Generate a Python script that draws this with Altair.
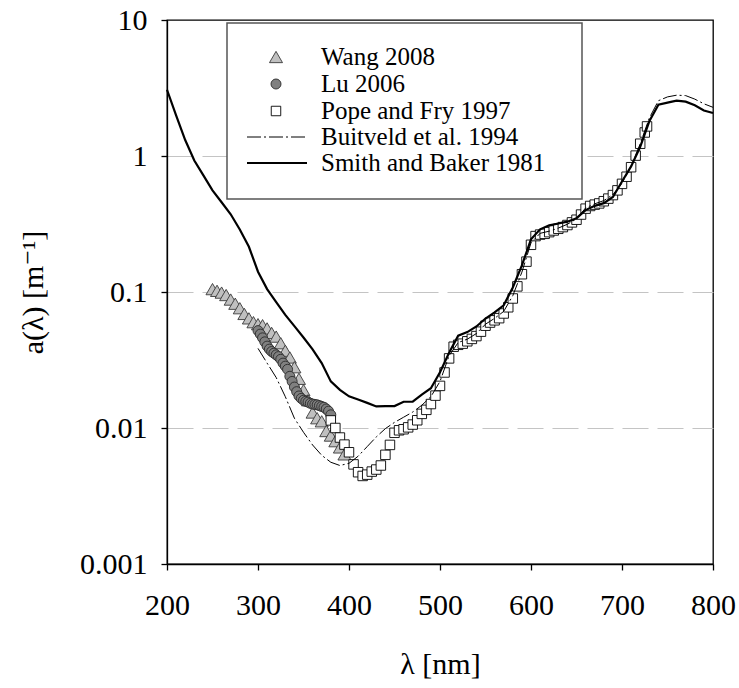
import altair as alt
import pandas as pd

# ---------------- data ----------------
smith_wl = list(range(200, 801, 10))
smith_a = [3.07, 1.99, 1.31, 0.927, 0.72, 0.559, 0.457, 0.373, 0.288, 0.215,
           0.141, 0.105, 0.0844, 0.0678, 0.0561, 0.0463, 0.0379, 0.030, 0.022, 0.0191,
           0.0171, 0.0162, 0.0153, 0.0144, 0.0145, 0.0145, 0.0156, 0.0156, 0.0176, 0.0196,
           0.0257, 0.0357, 0.0477, 0.0507, 0.0558, 0.0638, 0.0708, 0.0799, 0.108, 0.157,
           0.244, 0.289, 0.309, 0.319, 0.329, 0.349, 0.40, 0.43, 0.45, 0.50,
           0.65, 0.839, 1.169, 1.799, 2.38, 2.47, 2.55, 2.51, 2.36, 2.16, 2.07]

buit_wl = list(range(300, 801, 10))
buit_a = [0.0385, 0.030, 0.0235, 0.017, 0.0118, 0.0093, 0.0075, 0.0063, 0.0056, 0.0053,
          0.0055, 0.0062, 0.0073, 0.0086, 0.0099, 0.0110, 0.0120, 0.0131, 0.0147, 0.0170,
          0.0220, 0.0340, 0.0425, 0.0450, 0.0495, 0.0580, 0.0640, 0.0720, 0.0940, 0.1400,
          0.2300, 0.2700, 0.2800, 0.2950, 0.3150, 0.3450, 0.4150, 0.4450, 0.4700, 0.5200,
          0.6300, 0.8400, 1.2300, 1.9000, 2.5500, 2.7200, 2.8000, 2.7800, 2.6200, 2.4200, 2.2800]

pope_wl = list(range(380, 726, 5)) + [727.5]
pope_a = [0.01137, 0.01000, 0.00851, 0.00755, 0.00663, 0.00540, 0.00473, 0.00444, 0.00454, 0.00478,
          0.00495, 0.00530, 0.00635, 0.00751, 0.00922, 0.00962, 0.00979, 0.01011, 0.01060, 0.01140,
          0.01270, 0.01360, 0.01500, 0.01730, 0.02040, 0.02560, 0.03250, 0.03960, 0.04090, 0.04170,
          0.04340, 0.04520, 0.04740, 0.05110, 0.05650, 0.05960, 0.06190, 0.06420, 0.06950, 0.07720,
          0.08960, 0.11000, 0.13510, 0.16720, 0.22240, 0.25770, 0.26440, 0.26780, 0.27550, 0.28340,
          0.29160, 0.30010, 0.31080, 0.32500, 0.34000, 0.37100, 0.41000, 0.42900, 0.43900, 0.44800,
          0.46500, 0.48600, 0.51600, 0.55900, 0.62400, 0.70400, 0.82700, 1.00700, 1.23100, 1.48900,
          1.65]

lu_wl = [300, 302.5, 305, 307.5, 310, 312.5, 315, 317.5, 320, 322.5, 325, 327.5, 330, 332.5,
         335, 337.5, 340, 342.5, 345, 347.5, 350, 352.5, 355, 357.5, 360, 362.5, 365, 367.5,
         370, 372.5, 375, 377.5, 380]
lu_a = [0.052, 0.049, 0.046, 0.043, 0.040, 0.038, 0.0365, 0.0355, 0.0345, 0.0335, 0.032, 0.030,
        0.0285, 0.027, 0.024, 0.022, 0.020, 0.0185, 0.0172, 0.0165, 0.0160, 0.0157, 0.0155,
        0.0152, 0.0150, 0.0149, 0.0148, 0.0146, 0.0144, 0.0142, 0.0138, 0.0133, 0.0125]

wang_wl = list(range(250, 396, 5))
wang_a = [0.105, 0.102, 0.099, 0.095, 0.088, 0.082, 0.076, 0.069, 0.064, 0.060,
          0.058, 0.057, 0.054, 0.050, 0.047, 0.042, 0.037, 0.033, 0.028, 0.023,
          0.019, 0.016, 0.0130, 0.0118, 0.0112, 0.0095, 0.0088, 0.0080, 0.0072, 0.0064]

legend_labels = ["Wang 2008", "Lu 2006", "Pope and Fry 1997",
                 "Buitveld et al. 1994", "Smith and Baker 1981"]

x_ticks = [200, 300, 400, 500, 600, 700, 800]
y_ticks = [0.001, 0.01, 0.1, 1, 10]

FONT = "Times New Roman, Liberation Serif, DejaVu Serif, serif"
W, H = 546, 544

xs = alt.Scale(domain=[200, 800], nice=False, zero=False)
ys = alt.Scale(type="log", domain=[0.001, 10], nice=False)

xax = alt.Axis(values=x_ticks, title="λ [nm]", grid=False, tickSize=6,
               labelPadding=20, labelFlush=False, labelOverlap=False,
               titleX=W / 2, titleY=100, titleBaseline="middle")
yax = alt.Axis(values=y_ticks, format="~g", title="a(λ) [m⁻¹]", grid=True,
               gridColor="#c4c4c4", gridDash=[26, 9], gridWidth=1.2,
               gridOpacity={"condition": {"test": "datum.value > 5 || datum.value < 0.002",
                                          "value": 0}, "value": 1},
               tickSize=6, labelPadding=14, labelFlush=False, labelOverlap=False,
               titleX=-134, titleY=H / 2, titleBaseline="middle")


def df(wl, a):
    return pd.DataFrame({"wl": wl, "a": a})


def enc(ch):
    return ch.encode(x=alt.X("wl:Q", scale=xs, axis=xax),
                     y=alt.Y("a:Q", scale=ys, axis=yax))


wang = enc(alt.Chart(df(wang_wl, wang_a)).mark_point(
    shape="triangle-up", filled=True, fill="#c0c0c0", stroke="#3a3a3a",
    strokeWidth=0.9, size=170, opacity=1))
lu = enc(alt.Chart(df(lu_wl, lu_a)).mark_point(
    shape="circle", filled=True, fill="#808080", stroke="#2a2a2a",
    strokeWidth=0.9, size=100, opacity=1))
pope = enc(alt.Chart(df(pope_wl, pope_a)).mark_point(
    shape="square", filled=True, fill="white", stroke="black",
    strokeWidth=0.9, size=90, opacity=1))
buit = enc(alt.Chart(df(buit_wl, buit_a)).mark_line(
    color="black", strokeWidth=1, strokeDash=[14, 3, 2, 3]))
smith = enc(alt.Chart(df(smith_wl, smith_a)).mark_line(
    color="black", strokeWidth=2.2))

# ---------------- legend (drawn by hand inside the plot) ----------------
one = pd.DataFrame({"k": [0]})
leg_box = alt.Chart(one).mark_rect(fill="white", stroke="#555555", strokeWidth=1.5).encode(
    x=alt.value(60), x2=alt.value(415), y=alt.value(3), y2=alt.value(179))
row_y = [37, 64, 91, 117, 143]
sym_x = 109
leg_layers = [leg_box]
leg_layers.append(alt.Chart(one).mark_point(
    shape="triangle-up", filled=True, fill="#c0c0c0", stroke="#3a3a3a",
    strokeWidth=0.9, size=170, opacity=1).encode(x=alt.value(sym_x), y=alt.value(row_y[0])))
leg_layers.append(alt.Chart(one).mark_point(
    shape="circle", filled=True, fill="#808080", stroke="#2a2a2a",
    strokeWidth=0.9, size=100, opacity=1).encode(x=alt.value(sym_x), y=alt.value(row_y[1])))
leg_layers.append(alt.Chart(one).mark_point(
    shape="square", filled=True, fill="white", stroke="black",
    strokeWidth=0.9, size=90, opacity=1).encode(x=alt.value(sym_x), y=alt.value(row_y[2])))
leg_layers.append(alt.Chart(one).mark_rule(
    color="black", strokeWidth=1, strokeDash=[14, 3, 2, 3]).encode(
    x=alt.value(80), x2=alt.value(140), y=alt.value(row_y[3])))
leg_layers.append(alt.Chart(one).mark_rule(
    color="black", strokeWidth=2.2).encode(
    x=alt.value(80), x2=alt.value(140), y=alt.value(row_y[4])))
for lab, yy in zip(legend_labels, row_y):
    leg_layers.append(alt.Chart(pd.DataFrame({"t": [lab]})).mark_text(
        align="left", baseline="middle", font=FONT, fontSize=25, color="black").encode(
        x=alt.value(154), y=alt.value(yy), text="t:N"))

chart = alt.layer(wang, lu, pope, buit, smith, *leg_layers).properties(
    width=W, height=H,
    autosize=alt.AutoSizeParams(type="none"),
    padding={"left": 167, "top": 20, "right": 26, "bottom": 124},
).configure_view(
    stroke="black", strokeWidth=1.3
).configure_axis(
    labelFont=FONT, titleFont=FONT, labelFontSize=30, titleFontSize=30,
    titleFontWeight="normal", labelColor="black", titleColor="black",
    domainColor="black", tickColor="black", domainWidth=1.3, tickWidth=1.3
)

chart.save("out.html", embed_options={"renderer": "svg", "actions": False})
